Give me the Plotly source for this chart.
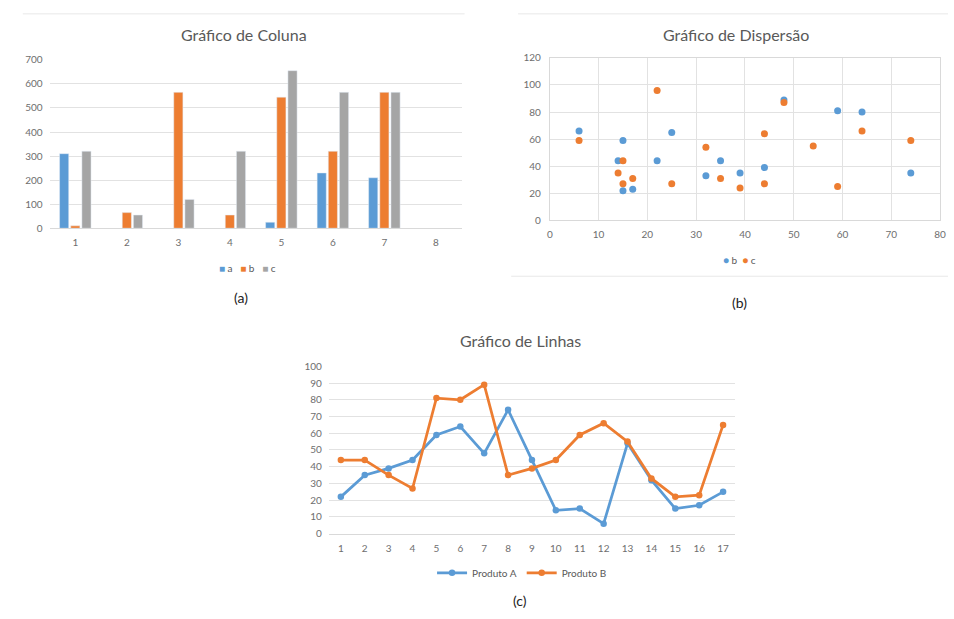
import plotly.graph_objects as go

W, H = 954, 619

# ---- data: column chart ----
col_categories = [1, 2, 3, 4, 5, 6, 7, 8]
col_a = [310, None, None, None, 25, 230, 210, None]
col_b = [10, 65, 565, 55, 545, 320, 565, None]
col_c = [320, 55, 120, 320, 655, 565, 565, None]

# ---- data: scatter chart ----
sc_b_x = [6, 14, 15, 15, 17, 22, 25, 32, 35, 39, 44, 48, 59, 64, 74]
sc_b_y = [66, 44, 59, 22, 23, 44, 65, 33, 44, 35, 39, 89, 81, 80, 35]
sc_c_x = [6, 14, 15, 15, 17, 22, 25, 32, 35, 39, 44, 44, 48, 54, 59, 64, 74]
sc_c_y = [59, 35, 44, 27, 31, 96, 27, 54, 31, 24, 64, 27, 87, 55, 25, 66, 59]

# ---- data: line chart ----
line_x = list(range(1, 18))
produto_a = [22, 35, 39, 44, 59, 64, 48, 74, 44, 14, 15, 6, 54, 32, 15, 17, 25]
produto_b = [44, 44, 35, 27, 81, 80, 89, 35, 39, 44, 59, 66, 55, 33, 22, 23, 65]

BLUE = "#5B9BD5"
ORANGE = "#ED7D31"
GRAY = "#A5A5A5"
TXT = "#595959"
TICK = "#6E6E6E"
GRID = "#E2E2E2"
FONT = "Lato, 'Open Sans', sans-serif"


def px(x):
    return x / W


def py(y):
    return 1 - y / H


fig = go.Figure()

# column chart
for name, vals, color in [("a", col_a, BLUE), ("b", col_b, ORANGE), ("c", col_c, GRAY)]:
    fig.add_trace(go.Bar(x=col_categories, y=vals, name=name, marker_color=color,
                         xaxis="x", yaxis="y", showlegend=False))

# scatter chart
fig.add_trace(go.Scatter(x=sc_b_x, y=sc_b_y, mode="markers", name="b",
                         marker=dict(color=BLUE, size=7), xaxis="x2", yaxis="y2",
                         showlegend=False))
fig.add_trace(go.Scatter(x=sc_c_x, y=sc_c_y, mode="markers", name="c",
                         marker=dict(color=ORANGE, size=7), xaxis="x2", yaxis="y2",
                         showlegend=False))

# line chart
fig.add_trace(go.Scatter(x=line_x, y=produto_a, mode="lines+markers", name="Produto A",
                         line=dict(color=BLUE, width=2.75), marker=dict(size=6.5),
                         xaxis="x3", yaxis="y3", legend="legend"))
fig.add_trace(go.Scatter(x=line_x, y=produto_b, mode="lines+markers", name="Produto B",
                         line=dict(color=ORANGE, width=2.75), marker=dict(size=6.5),
                         xaxis="x3", yaxis="y3", legend="legend"))

tickfont = dict(family=FONT, size=10, color=TICK)
ycommon = dict(ticks="", tickfont=tickfont, zeroline=False, ticklabelstandoff=6)
xcommon = dict(ticks="", tickfont=tickfont, zeroline=False, ticklabelstandoff=5)

fig.update_layout(
    width=W, height=H,
    margin=dict(l=0, r=0, t=0, b=0),
    paper_bgcolor="white", plot_bgcolor="white",
    font=dict(family=FONT, color=TXT),
    barmode="group", bargap=0.35, bargroupgap=0.18,
    xaxis=dict(xcommon, domain=[px(47), px(463)], anchor="y", range=[0.5, 8.5],
               tickvals=col_categories, ticktext=[str(c) for c in col_categories],
               showgrid=False, showline=True, linecolor="#D9D9D9", linewidth=1),
    yaxis=dict(ycommon, domain=[py(226), py(54)], anchor="x", range=[0, 700], dtick=100,
               showgrid=True, gridcolor=GRID, showline=False),
    xaxis2=dict(xcommon, domain=[px(552), px(946)], anchor="y2", range=[0, 80], dtick=10,
                showgrid=True, gridcolor=GRID, showline=True, linecolor="#D9D9D9",
                mirror=True),
    yaxis2=dict(ycommon, domain=[py(218), py(52)], anchor="x2", range=[0, 120], dtick=20,
                showgrid=True, gridcolor=GRID, showline=True, linecolor="#D9D9D9",
                mirror=True),
    xaxis3=dict(xcommon, domain=[px(329), px(739)], anchor="y3", range=[0.5, 17.5],
                tickvals=line_x, showgrid=False, showline=True, linecolor="#D9D9D9"),
    yaxis3=dict(ycommon, domain=[py(538), py(367)], anchor="x3", range=[0, 100], dtick=10,
                showgrid=True, gridcolor=GRID, showline=False),
    legend=dict(orientation="h", x=px(524), y=py(578), xanchor="center", yanchor="middle",
                font=dict(family=FONT, size=10, color=TXT), itemwidth=30,
                bgcolor="rgba(0,0,0,0)"),
)

annotations = [
    dict(x=px(243), y=py(28), text="Gráfico de Coluna", font=dict(size=16, color=TXT)),
    dict(x=px(740), y=py(28), text="Gráfico de Dispersão", font=dict(size=16, color=TXT)),
    dict(x=px(522), y=py(341), text="Gráfico de Linhas", font=dict(size=16, color=TXT)),
    dict(x=px(247), y=py(267),
         text=(f"<span style='color:{BLUE}'>■</span> a   "
               f"<span style='color:{ORANGE}'>■</span> b   "
               f"<span style='color:{GRAY}'>■</span> c"),
         font=dict(size=10, color=TXT)),
    dict(x=px(744), y=py(258),
         text=(f"<span style='color:{BLUE}'>●</span> b  "
               f"<span style='color:{ORANGE}'>●</span> c"),
         font=dict(size=10, color=TXT)),
    dict(x=px(240), y=py(297), text="(a)", font=dict(size=14, color="#222222")),
    dict(x=px(744), y=py(302), text="(b)", font=dict(size=14, color="#222222")),
    dict(x=px(522), y=py(606), text="(c)", font=dict(size=14, color="#222222")),
]
for a in annotations:
    a.update(xref="paper", yref="paper", showarrow=False, xanchor="center", yanchor="middle")
    a["font"]["family"] = FONT
fig.update_layout(annotations=annotations)

# faint frame lines around the upper chart panels
frame = dict(type="line", xref="paper", yref="paper", line=dict(color="#E8E8E8", width=1))
fig.update_layout(shapes=[
    dict(frame, x0=px(20), x1=px(466), y0=py(7), y1=py(7)),
    dict(frame, x0=px(520), x1=px(954), y0=py(7), y1=py(7)),
    dict(frame, x0=px(513), x1=px(954), y0=py(275), y1=py(275)),
])

fig.write_html("out.html")
